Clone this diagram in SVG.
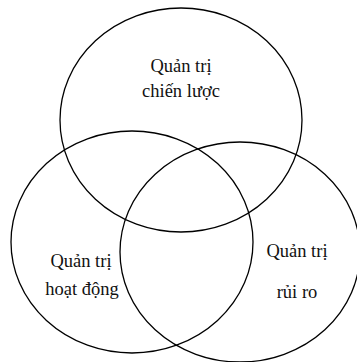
<svg xmlns="http://www.w3.org/2000/svg" width="357" height="362" viewBox="0 0 357 362">
<style>
.c{fill:none;stroke:#000;stroke-width:1.3}
.t{font-family:"Liberation Serif","Times New Roman",serif;font-size:18.5px;fill:#111;text-anchor:middle}
</style>
<rect width="357" height="362" fill="#fff"/>
<g id="connectors"></g>
<g id="strategy">
<ellipse class="c" cx="181" cy="120" rx="121" ry="112"/>
<text class="t" x="181" y="72">Quản trị</text>
<text class="t" x="181" y="97">chiến lược</text>
</g>
<g id="operations">
<ellipse class="c" cx="132" cy="242" rx="121" ry="111"/>
<text class="t" x="81" y="267">Quản trị</text>
<text class="t" x="82" y="295">hoạt động</text>
</g>
<g id="risk">
<ellipse class="c" cx="240" cy="252" rx="120" ry="110"/>
<text class="t" x="297" y="257">Quản trị</text>
<text class="t" x="297" y="298">rủi ro</text>
</g>
</svg>
